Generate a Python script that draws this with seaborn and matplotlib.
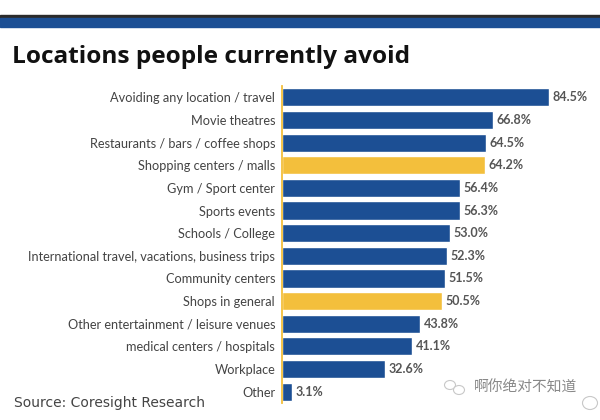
"""Locations people currently avoid"""
import pandas as pd
import seaborn as sns
import matplotlib.pyplot as plt
from matplotlib.patches import Rectangle, Ellipse

locations = ["Avoiding any location / travel", "Movie theatres", "Restaurants / bars / coffee shops",
             "Shopping centers / malls", "Gym / Sport center", "Sports events", "Schools / College",
             "International travel, vacations, business trips", "Community centers", "Shops in general",
             "Other entertainment / leisure venues", "medical centers / hospitals", "Workplace", "Other"]
values = [84.5, 66.8, 64.5, 64.2, 56.4, 56.3, 53.0, 52.3, 51.5, 50.5, 43.8, 41.1, 32.6, 3.1]
highlighted = ["Shopping centers / malls", "Shops in general"]

BLUE = "#1c4f94"
YELLOW = "#f3bf3c"

sns.set_style("white")
plt.rcParams["font.family"] = ["Lato", "DejaVu Sans"]

df = pd.DataFrame({"location": locations, "value": values})
df["group"] = ["hl" if l in highlighted else "base" for l in locations]

fig = plt.figure(figsize=(6, 4.2), dpi=100)
ax = fig.add_axes([282 / 600, 1 - 403 / 420, 318 / 600, 317 / 420])
sns.barplot(data=df, y="location", x="value", hue="group", dodge=False, legend=False,
            palette={"base": BLUE, "hl": YELLOW}, width=0.8, saturation=1, ax=ax)
ax.set_xlim(0, 100.6)
ax.set_xlabel("")
ax.set_ylabel("")
ax.set_xticks([])
ax.tick_params(axis="y", length=0, pad=5, labelsize=9.2, labelcolor="#444444")
sns.despine(ax=ax, left=False, bottom=True)
ax.spines["left"].set_color(YELLOW)
ax.spines["left"].set_linewidth(1.3)

for i, v in enumerate(values):
    ax.text(v + 1.1, i, f"{v:.1f}%", va="center", ha="left", fontsize=9,
            fontweight="bold", color="#555555")

# top band
fig.patches.append(Rectangle((0, 1 - 18 / 420), 1, 3 / 420, transform=fig.transFigure, color="#2b2b2b"))
fig.patches.append(Rectangle((0, 1 - 27 / 420), 1, 9 / 420, transform=fig.transFigure, color=BLUE))

fig.text(12 / 600, 1 - 57 / 420, "Locations people currently avoid", fontsize=17.6,
         fontweight="bold", color="#111111", va="center", ha="left", family="Open Sans")
fig.text(14 / 600, 1 - 403 / 420, "Source: Coresight Research", fontsize=10,
         color="#444444", va="center", ha="left", family="DejaVu Sans")

# watermark
fig.text(474 / 600, 1 - 388 / 420, "啊你绝对不知道", fontsize=10.6, color="#888888", va="center",
         ha="left", family=["Noto Sans CJK SC", "DejaVu Sans"])
for cx, cy, w, h in [(450, 385, 11, 9), (459, 390, 11, 9), (590, 403, 15, 13)]:
    fig.patches.append(Ellipse((cx / 600, 1 - cy / 420), w / 600, h / 420, transform=fig.transFigure,
                               facecolor="white", edgecolor="#c8c8c8", linewidth=0.8))

fig.savefig("out.png", dpi=100)
